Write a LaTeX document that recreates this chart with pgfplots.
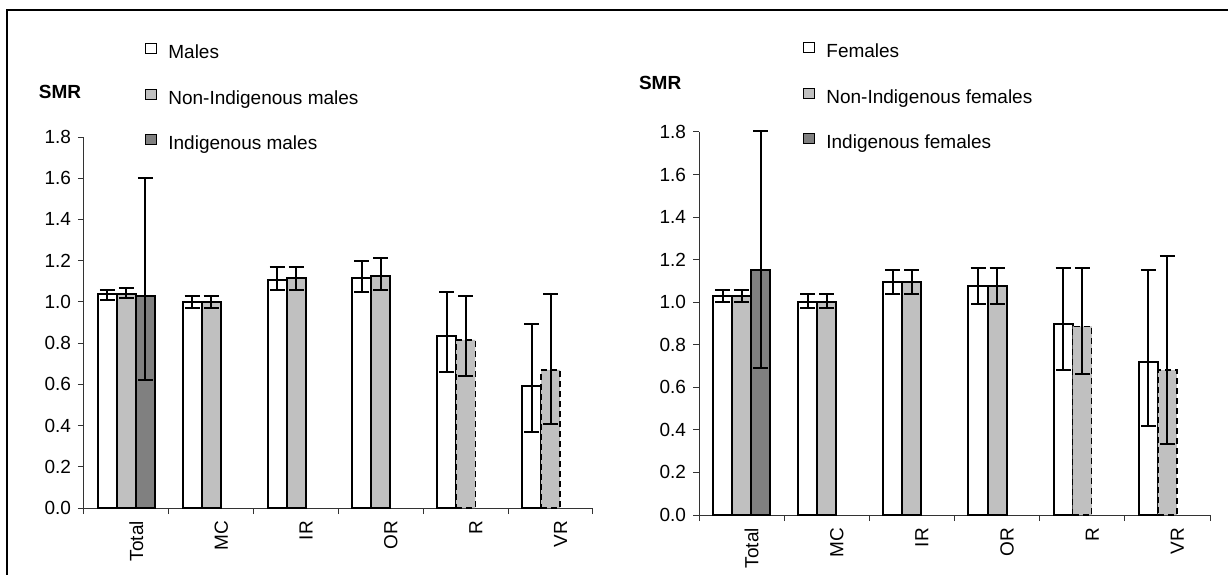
\documentclass[border=0pt]{standalone}
\usepackage{fontspec}
\setmainfont{Liberation Sans}
\usepackage{pgfplots}
\usepackage{pgfplotstable}
\pgfplotsset{compat=1.18}
\definecolor{lgray}{HTML}{C0C0C0}
\definecolor{dgray}{HTML}{808080}

% x = category (0 Total,1 MC,2 IR,3 OR,4 R,5 VR), y = SMR, ep/em = CI up/down
\pgfplotstableread{
x y ep em
0 1.040 0.020 0.030
1 1.000 0.030 0.030
2 1.107 0.060 0.049
3 1.117 0.079 0.070
4 0.835 0.214 0.175
5 0.592 0.301 0.223
}\males
\pgfplotstableread{
x y ep em
0 1.039 0.030 0.021
1 1.000 0.030 0.030
2 1.117 0.050 0.059
3 1.128 0.087 0.070
}\nimalesA
\pgfplotstableread{
x y ep em
4 0.816 0.213 0.175
5 0.670 0.369 0.262
}\nimalesB
\pgfplotstableread{
x y ep em
0 1.029 0.572 0.408
}\imales
\pgfplotstableread{
x y ep em
0 1.029 0.028 0.027
1 1.002 0.036 0.031
2 1.095 0.056 0.057
3 1.076 0.085 0.084
4 0.897 0.264 0.216
5 0.719 0.432 0.301
}\females
\pgfplotstableread{
x y ep em
0 1.029 0.028 0.027
1 1.002 0.036 0.031
2 1.095 0.056 0.057
3 1.076 0.085 0.084
}\nifemalesA
\pgfplotstableread{
x y ep em
4 0.887 0.274 0.226
5 0.681 0.536 0.347
}\nifemalesB
\pgfplotstableread{
x y ep em
0 1.151 0.655 0.459
}\ifemales

\newcommand{\fs}{\fontsize{9.5}{11}\selectfont}

\pgfplotsset{
  smr/.style={
    scale only axis, clip=false,
    xmin=-0.5, xmax=5.5, ymin=0, ymax=1.8,
    axis x line*=bottom, axis y line*=left,
    axis line style={-, line width=0.5pt, black!80},
    tick align=outside,
    major tick length=3pt, minor tick length=3pt,
    every tick/.style={black!80, line width=0.5pt},
    xtick={0,1,2,3,4,5}, xticklabels={Total,MC,IR,OR,R,VR},
    major x tick style={draw=none},
    minor xtick={-0.5,0.5,1.5,2.5,3.5,4.5,5.5},
    ytick={0,0.2,0.4,0.6,0.8,1.0,1.2,1.4,1.6,1.8},
    /pgf/number format/assume math mode=true,
    yticklabel style={/pgf/number format/fixed, /pgf/number format/fixed zerofill, /pgf/number format/precision=1, font=\fs},
    xticklabel style={rotate=90, anchor=east, font=\fs, yshift=-5pt},
    legend image code/.code={\draw[##1] (0pt,0pt) rectangle (5.5pt,5pt);},
    legend cell align=left,
    legend style={draw=none, fill=none, inner sep=0pt, row sep=13pt, column sep=5.5pt,
      nodes={inner sep=0pt, text height=7pt, text depth=2pt, font=\fs}, anchor=north west},
    ylabel={SMR},
  },
  bars/.style={ybar, bar width=0.224, bar shift=0, forget plot, draw=black, line width=1pt,
    /pgfplots/error bars/y dir=both, /pgfplots/error bars/y explicit,
    /pgfplots/error bars/error bar style={line width=1pt, black, solid},
    /pgfplots/error bars/error mark options={rotate=90, mark size=3.75pt, line width=1pt, black, solid}},
  dbars/.style={bars, line width=0.7pt, dash pattern=on 3pt off 2pt},
}

\begin{document}
\begin{tikzpicture}
\useasboundingbox (0,0) rectangle (614pt,287pt);
\draw[line width=1.2pt] (3.5pt,-2pt) -- (3.5pt,282pt) -- (616pt,282pt);

\begin{axis}[smr, at={(42pt,33pt)}, anchor=south west, width=254.5pt, height=185.5pt,
  legend style={at={(axis description cs:0.1198,1.2534)}},
  every axis y label/.style={at={(axis description cs:-0.047,1.121)}, anchor=center, font=\bfseries\fs}]
\addlegendimage{draw=black, fill=white, line width=0.5pt}
\addlegendentry{Males}
\addlegendimage{draw=black, fill=lgray, line width=0.5pt}
\addlegendentry{Non-Indigenous males}
\addlegendimage{draw=black, fill=dgray, line width=0.5pt}
\addlegendentry{Indigenous males}
\addplot[bars, fill=white] table[x expr=\thisrow{x}-0.224, y=y, y error plus=ep, y error minus=em]{\males};
\addplot[bars, fill=lgray] table[x=x, y=y, y error plus=ep, y error minus=em]{\nimalesA};
\addplot[dbars, fill=lgray] table[x=x, y=y, y error plus=ep, y error minus=em]{\nimalesB};
\addplot[bars, fill=dgray] table[x expr=\thisrow{x}+0.224, y=y, y error plus=ep, y error minus=em]{\imales};
\end{axis}

\begin{axis}[smr, at={(349.5pt,29.5pt)}, anchor=south west, width=255.5pt, height=191.5pt,
  legend style={at={(axis description cs:0.2035,1.235)}},
  every axis y label/.style={at={(axis description cs:-0.076,1.128)}, anchor=center, font=\bfseries\fs}]
\addlegendimage{draw=black, fill=white, line width=0.5pt}
\addlegendentry{Females}
\addlegendimage{draw=black, fill=lgray, line width=0.5pt}
\addlegendentry{Non-Indigenous females}
\addlegendimage{draw=black, fill=dgray, line width=0.5pt}
\addlegendentry{Indigenous females}
\addplot[bars, fill=white] table[x expr=\thisrow{x}-0.224, y=y, y error plus=ep, y error minus=em]{\females};
\addplot[bars, fill=lgray] table[x=x, y=y, y error plus=ep, y error minus=em]{\nifemalesA};
\addplot[dbars, fill=lgray] table[x=x, y=y, y error plus=ep, y error minus=em]{\nifemalesB};
\addplot[bars, fill=dgray] table[x expr=\thisrow{x}+0.224, y=y, y error plus=ep, y error minus=em]{\ifemales};
\end{axis}
\end{tikzpicture}
\end{document}
